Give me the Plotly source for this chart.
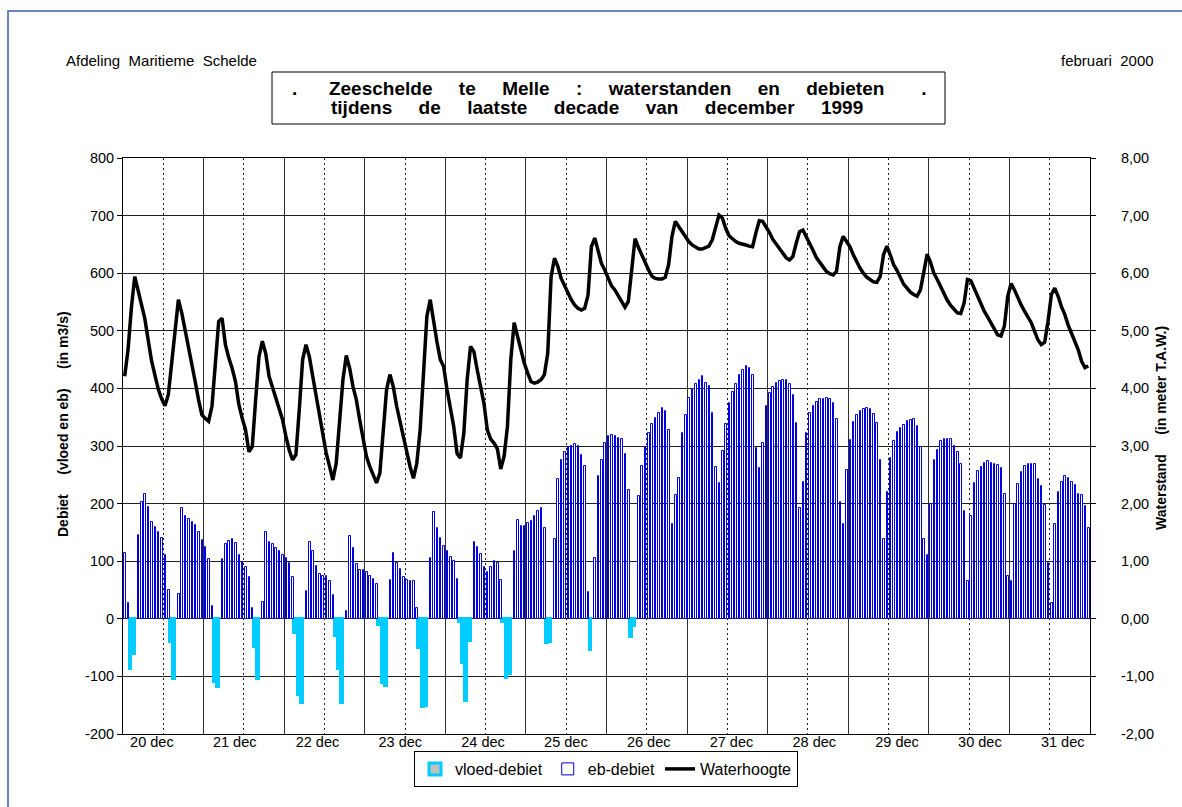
import plotly.graph_objects as go

# Dagen van de laatste decade (uurwaarden, 24 per dag)
dagen = ["20 dec", "21 dec", "22 dec", "23 dec", "24 dec", "25 dec",
         "26 dec", "27 dec", "28 dec", "29 dec", "30 dec", "31 dec"]

# Eb-debiet per uur (m3/s), 0 = geen ebstroom in dat uur
eb_debiet = [
    115, 27, 0, 0, 146, 203, 217, 194, 168, 159, 150, 141, 110, 50, 0, 0, 43, 192, 178, 173, 168, 162, 150, 136,
    124, 104, 22, 0, 0, 104, 130, 135, 138, 132, 111, 99, 90, 73, 19, 0, 0, 30, 150, 133, 130, 123, 118, 111,
    105, 97, 73, 0, 0, 0, 48, 134, 118, 92, 78, 75, 75, 65, 42, 0, 0, 0, 14, 143, 123, 95, 85, 85,
    81, 75, 69, 60, 0, 0, 0, 67, 115, 97, 86, 73, 67, 65, 65, 18, 0, 0, 0, 105, 185, 157, 140, 127,
    118, 108, 100, 69, 0, 0, 0, 0, 134, 124, 113, 90, 81, 90, 101, 97, 68, 0, 0, 0, 118, 171, 161, 161,
    166, 170, 178, 188, 192, 157, 0, 0, 138, 242, 276, 289, 299, 300, 303, 300, 285, 266, 46, 0, 105, 248, 276, 306,
    317, 319, 318, 314, 312, 286, 224, 0, 0, 213, 266, 299, 322, 338, 348, 358, 366, 360, 328, 165, 215, 244, 322, 354,
    383, 399, 407, 415, 421, 410, 404, 358, 264, 235, 292, 338, 375, 393, 407, 423, 432, 439, 435, 424, 296, 262, 305, 370,
    392, 402, 409, 412, 415, 415, 408, 389, 340, 192, 238, 322, 357, 370, 376, 381, 381, 383, 381, 374, 347, 202, 164, 258,
    311, 341, 354, 360, 364, 366, 365, 356, 340, 276, 139, 220, 279, 308, 325, 331, 337, 343, 345, 347, 335, 299, 139, 111,
    200, 276, 293, 308, 312, 312, 312, 300, 289, 269, 188, 65, 179, 235, 257, 264, 270, 274, 271, 269, 267, 262, 217, 74,
    65, 199, 234, 255, 266, 269, 269, 269, 243, 230, 197, 97, 27, 164, 221, 238, 248, 245, 238, 233, 217, 215, 196, 157,
]

# Vloed-debiet per uur (m3/s, negatief), N = geen vloedstroom
N = None
vloed_debiet = [
    N, N, -88, -61, N, N, N, N, N, N, N, N, N, N, -41, -104, N, N, N, N, N, N, N, N,
    N, N, N, -109, -119, N, N, N, N, N, N, N, N, N, N, -49, -105, N, N, N, N, N, N, N,
    N, N, N, -25, -132, -146, N, N, N, N, N, N, N, N, N, -29, -88, -146, N, N, N, N, N, N,
    N, N, N, N, -10, -111, -117, N, N, N, N, N, N, N, N, N, -50, -153, -152, N, N, N, N, N,
    N, N, N, N, -5, -76, -143, -38, N, N, N, N, N, N, N, N, N, -5, -103, -96, N, N, N, N,
    N, N, N, N, N, N, -42, -40, N, N, N, N, N, N, N, N, N, N, N, -54, N, N, N, N,
    N, N, N, N, N, N, N, -32, -12, N, N, N, N, N, N, N, N, N, N, N, N, N, N, N,
    N, N, N, N, N, N, N, N, N, N, N, N, N, N, N, N, N, N, N, N, N, N, N, N,
    N, N, N, N, N, N, N, N, N, N, N, N, N, N, N, N, N, N, N, N, N, N, N, N,
    N, N, N, N, N, N, N, N, N, N, N, N, N, N, N, N, N, N, N, N, N, N, N, N,
    N, N, N, N, N, N, N, N, N, N, N, N, N, N, N, N, N, N, N, N, N, N, N, N,
    N, N, N, N, N, N, N, N, N, N, N, N, N, N, N, N, N, N, N, N, N, N, N, N,
]

# Waterhoogte per uur (m T.A.W.)
waterhoogte = [
    4.21, 4.67, 5.40, 5.94, 5.70, 5.47, 5.21, 4.84, 4.48, 4.23, 3.99, 3.82, 3.70, 3.89, 4.40, 4.92, 5.54, 5.31, 5.03, 4.73, 4.41, 4.12, 3.80, 3.54,
    3.48, 3.43, 3.69, 4.44, 5.16, 5.22, 4.76, 4.53, 4.35, 4.12, 3.72, 3.48, 3.28, 2.90, 2.99, 3.80, 4.55, 4.82, 4.61, 4.21, 4.03, 3.86, 3.66, 3.46,
    3.17, 2.93, 2.76, 2.85, 3.63, 4.50, 4.76, 4.55, 4.21, 3.86, 3.51, 3.17, 2.88, 2.65, 2.41, 2.70, 3.45, 4.15, 4.57, 4.35, 4.03, 3.80, 3.45, 3.17,
    2.82, 2.64, 2.50, 2.36, 2.53, 3.34, 3.98, 4.24, 4.03, 3.69, 3.43, 3.11, 2.88, 2.64, 2.44, 2.70, 3.28, 4.32, 5.25, 5.54, 5.13, 4.81, 4.50, 4.38,
    3.98, 3.69, 3.34, 2.87, 2.79, 3.22, 4.15, 4.73, 4.64, 4.32, 4.03, 3.74, 3.28, 3.12, 3.05, 2.95, 2.60, 2.82, 3.34, 4.50, 5.14, 4.90, 4.67, 4.44,
    4.27, 4.12, 4.09, 4.11, 4.15, 4.24, 4.61, 5.94, 6.26, 6.12, 5.91, 5.78, 5.65, 5.54, 5.45, 5.39, 5.36, 5.39, 5.62, 6.46, 6.61, 6.38, 6.17, 6.05,
    5.90, 5.78, 5.71, 5.60, 5.51, 5.41, 5.51, 6.12, 6.60, 6.45, 6.32, 6.17, 6.06, 5.95, 5.91, 5.90, 5.90, 5.93, 6.15, 6.64, 6.90, 6.81, 6.72, 6.65,
    6.55, 6.49, 6.45, 6.42, 6.42, 6.45, 6.47, 6.58, 6.82, 7.01, 6.96, 6.78, 6.65, 6.59, 6.55, 6.52, 6.51, 6.49, 6.47, 6.46, 6.70, 6.91, 6.90, 6.81,
    6.71, 6.59, 6.51, 6.44, 6.35, 6.27, 6.23, 6.29, 6.52, 6.72, 6.75, 6.64, 6.51, 6.40, 6.27, 6.18, 6.11, 6.03, 5.99, 5.97, 6.03, 6.46, 6.64, 6.55,
    6.46, 6.32, 6.20, 6.09, 6.00, 5.93, 5.89, 5.85, 5.84, 5.94, 6.32, 6.47, 6.32, 6.15, 6.05, 5.92, 5.81, 5.74, 5.67, 5.63, 5.60, 5.71, 6.06, 6.33,
    6.19, 6.00, 5.89, 5.77, 5.63, 5.53, 5.44, 5.37, 5.31, 5.30, 5.48, 5.89, 5.87, 5.74, 5.60, 5.45, 5.34, 5.24, 5.13, 5.02, 4.93, 4.91, 5.08, 5.60,
    5.82, 5.71, 5.57, 5.45, 5.34, 5.24, 5.14, 4.99, 4.84, 4.76, 4.80, 5.16, 5.63, 5.74, 5.60, 5.42, 5.28, 5.10, 4.96, 4.81, 4.67, 4.47, 4.36, 4.39,
]

debiet_ticks = [-200, -100, 0, 100, 200, 300, 400, 500, 600, 700, 800]
stand_ticks = [-2, -1, 0, 1, 2, 3, 4, 5, 6, 7, 8]

UUR = 24
uren = list(range(len(waterhoogte)))
n_uren = len(uren)

# day labels follow the spreadsheet's own label spacing (slightly wider than a day)
LABEL_START, LABEL_STAP = 8.6, 24.66
label_pos = [LABEL_START + d * LABEL_STAP for d in range(len(dagen))]

FONT = "Liberation Sans, Arial, sans-serif"
NB = "\u00a0"


def sp(text, n=2):
    """Replace single spaces by n non-breaking spaces (wide word spacing)."""
    return text.replace(" ", NB * n)


fig = go.Figure()

fig.add_trace(go.Bar(
    x=uren, y=vloed_debiet, name="vloed-debiet",
    width=0.5, offset=0.0,
    marker=dict(color="#C0C0C0", line=dict(color="#00CCFF", width=3)),
))
fig.add_trace(go.Bar(
    x=uren, y=[v if v else None for v in eb_debiet], name="eb-debiet",
    width=0.45, offset=0.4,
    marker=dict(color="white", line=dict(color="#0000DD", width=1)),
))
fig.add_trace(go.Scatter(
    x=[u + 0.5 for u in uren], y=waterhoogte, name="Waterhoogte",
    xaxis="x2", yaxis="y2", mode="lines",
    line=dict(color="black", width=3.5),
))

# plot area in pixels: x 123..1090, y 158..734
L, R, T, B = 123, 1090, 158, 734
W, H = 1182, 807


def px(x):
    return (x - L) / (R - L)


def py(y):
    return (B - y) / (B - T)


TICKFONT = dict(family=FONT, size=14.5, color="black")

fig.update_layout(
    width=W, height=H,
    margin=dict(l=L, r=W - R, t=T, b=H - B),
    paper_bgcolor="white", plot_bgcolor="white",
    barmode="overlay", bargap=0,
    font=dict(family=FONT, color="black", size=14),
    showlegend=True,
    legend=dict(
        orientation="h", x=px(606), xanchor="center", y=py(751), yanchor="top",
        bordercolor="black", borderwidth=1, bgcolor="white",
        font=dict(family=FONT, size=16, color="black"),
        itemwidth=30, tracegroupgap=0,
    ),
    xaxis=dict(
        range=[0, n_uren],
        tick0=0, dtick=UUR, showticklabels=False,
        ticks="", showgrid=True, gridcolor="#303030", gridwidth=1,
        minor=dict(tick0=0, dtick=UUR / 2, showgrid=True, gridcolor="#202020",
                   gridwidth=1, griddash="2px,3px", ticks=""),
        showline=True, linecolor="black", linewidth=1, mirror=True,
        zeroline=False,
    ),
    xaxis2=dict(
        range=[0, n_uren], overlaying="x", anchor="y2", side="bottom",
        tickmode="array", tickvals=label_pos, ticktext=dagen,
        ticks="", showgrid=False, zeroline=False, showline=False,
        ticklabelstandoff=-3,
        tickfont=dict(family=FONT, size=14.5, color="black"),
    ),
    yaxis=dict(
        range=[-200, 800],
        tickmode="array", tickvals=debiet_ticks,
        ticktext=[str(v) for v in debiet_ticks],
        ticks="outside", ticklen=5, tickcolor="black",
        showgrid=True, gridcolor="#202020", gridwidth=1,
        zeroline=False,
        showline=True, linecolor="black", linewidth=1,
        tickfont=TICKFONT,
    ),
    yaxis2=dict(
        range=[-2, 8], overlaying="y", side="right", anchor="x2",
        tickmode="array", tickvals=stand_ticks,
        ticktext=[f"{v:.2f}".replace(".", ",") for v in stand_ticks],
        ticks="outside", ticklen=5, tickcolor="black",
        ticklabelstandoff=22,
        showgrid=False, zeroline=False,
        showline=True, linecolor="black", linewidth=1,
        tickfont=TICKFONT,
    ),
)

# title box and page frame
fig.add_shape(type="rect", xref="paper", yref="paper",
              x0=px(272), x1=px(945), y0=py(124), y1=py(72),
              line=dict(color="black", width=1), fillcolor="white", layer="above")
fig.add_shape(type="rect", xref="paper", yref="paper",
              x0=px(8), x1=px(1400), y0=py(1100), y1=py(11),
              line=dict(color="#3A5DAE", width=1.5), fillcolor="rgba(0,0,0,0)")

ann = [
    dict(text=sp("Afdeling Maritieme Schelde"), x=px(64), y=py(60),
         xanchor="left", yanchor="middle", font=dict(size=15, family=FONT)),
    dict(text=sp("februari 2000"), x=px(1156), y=py(60),
         xanchor="right", yanchor="middle", font=dict(size=15, family=FONT)),
    dict(text="<b>." + NB * 6 + sp("Zeeschelde te Melle : waterstanden en debieten", 5)
         + NB * 7 + ".</b>",
         x=px(609), y=py(88), xanchor="center", yanchor="middle",
         font=dict(size=19, family=FONT)),
    dict(text="<b>" + sp("tijdens de laatste decade van december 1999", 5) + "</b>",
         x=px(597), y=py(108), xanchor="center", yanchor="middle",
         font=dict(size=19, family=FONT)),
    dict(text="<b>Debiet" + NB * 5 + "(vloed" + NB + "en" + NB + "eb)" + NB * 5
         + "(in" + NB + "m3/s)</b>",
         x=px(63), y=py(424), xanchor="center", yanchor="middle", textangle=-90,
         font=dict(size=14, family=FONT)),
    dict(text="<b>Waterstand" + NB * 5 + "(in" + NB + "meter" + NB + "T.A.W.)</b>",
         x=px(1161), y=py(428), xanchor="center", yanchor="middle", textangle=-90,
         font=dict(size=14, family=FONT)),
]
for a in ann:
    fig.add_annotation(xref="paper", yref="paper", showarrow=False, **a)

fig.write_html("out.html")
